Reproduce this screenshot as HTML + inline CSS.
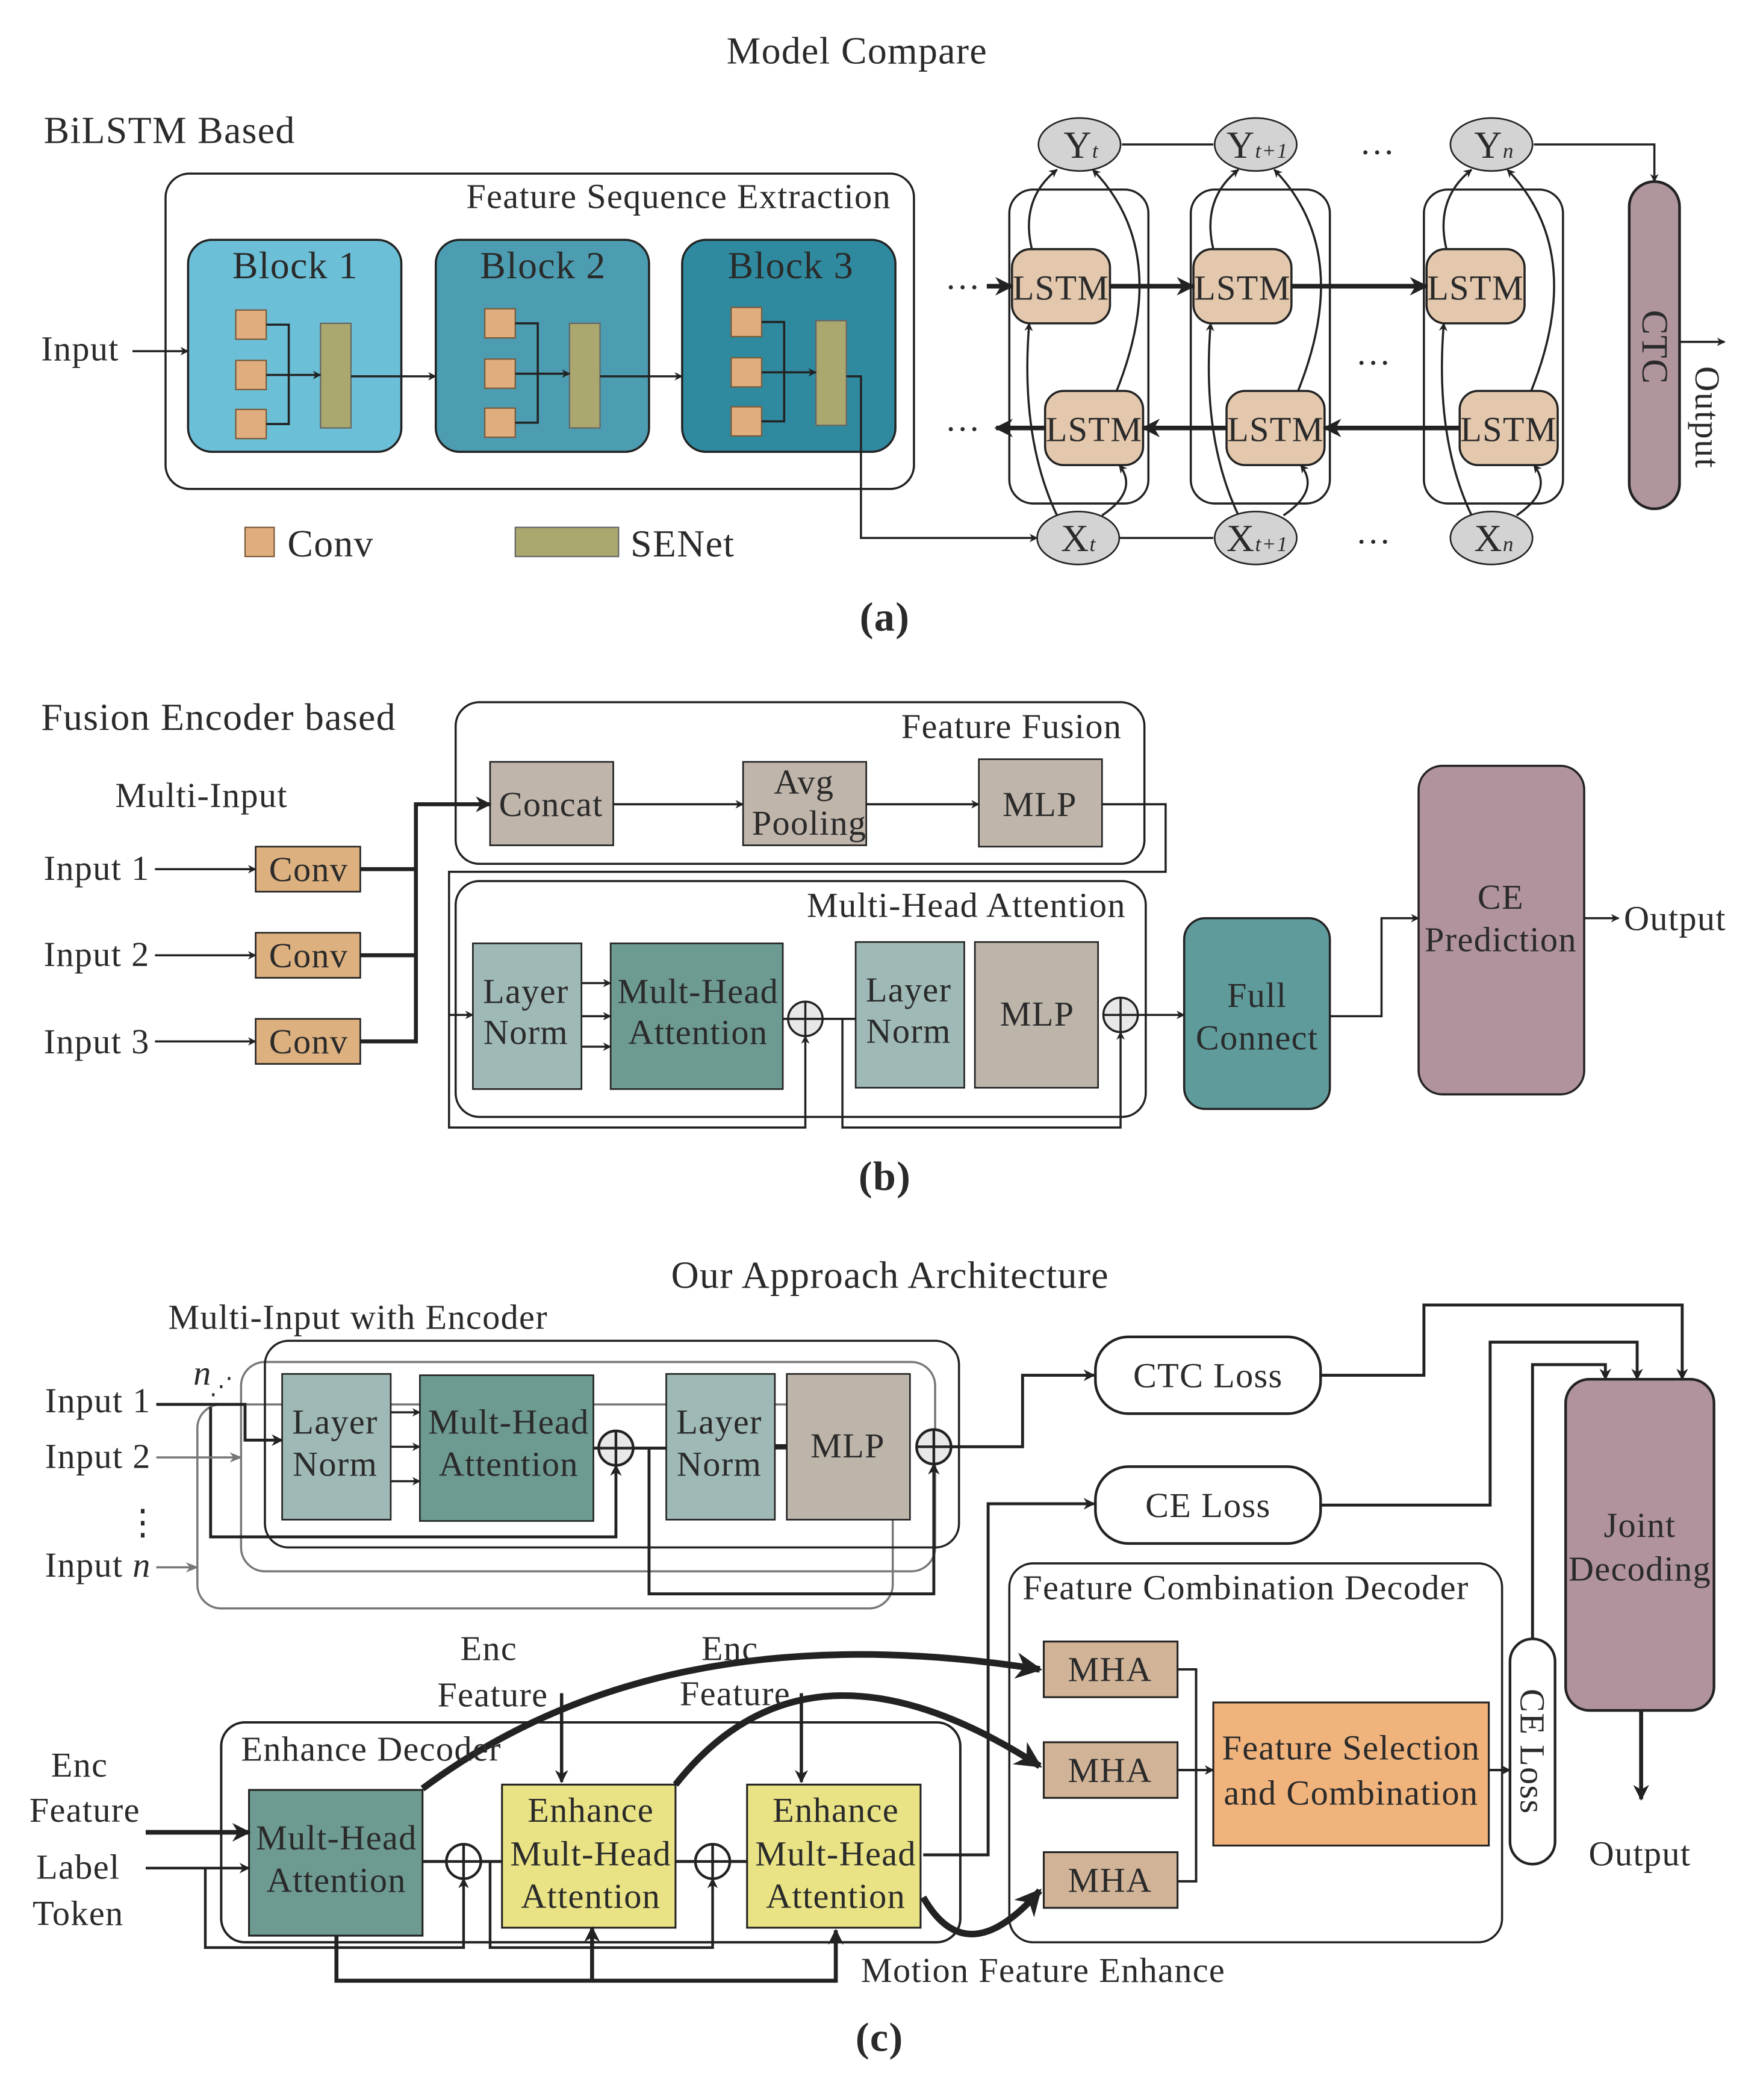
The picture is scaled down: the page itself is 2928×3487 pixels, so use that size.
<!DOCTYPE html>
<html><head><meta charset="utf-8"><style>
html,body{margin:0;padding:0;background:#fff;}
svg{display:block;}
text{font-family:"Liberation Serif",serif;fill:#2a2a2a;letter-spacing:0.6px;}
</style></head><body>
<svg width="2928" height="3487" viewBox="0 0 1331 1585" xmlns="http://www.w3.org/2000/svg">
<defs>
<marker id="a" viewBox="0 0 10 10" refX="9" refY="5" markerWidth="6" markerHeight="6" orient="auto-start-reverse"><path d="M0,1 L10,5 L0,9 L3,5z" fill="#222"/></marker>
<marker id="b" viewBox="0 0 10 10" refX="9" refY="5" markerWidth="4" markerHeight="4" orient="auto-start-reverse"><path d="M0,0 L10,5 L0,10 L3,5z" fill="#222"/></marker>
<marker id="g" viewBox="0 0 10 10" refX="9" refY="5" markerWidth="6" markerHeight="6" orient="auto"><path d="M0,1 L10,5 L0,9 L3,5z" fill="#777"/></marker>
</defs>
<g stroke="#222" fill="none" stroke-width="1.6">
<!-- ===== (a) ===== -->
<rect x="125" y="131" width="565" height="238" rx="18"/>
<rect x="142" y="181" width="161" height="160" rx="18" fill="#6bbfd7"/>
<rect x="329" y="181" width="161" height="160" rx="18" fill="#4c9db1"/>
<rect x="515" y="181" width="161" height="160" rx="18" fill="#2f8a9f"/>
<g fill="#e0ae7e" stroke="#7a5a3a" stroke-width="1">
<rect x="178" y="234" width="23" height="22"/><rect x="178" y="272" width="23" height="22"/><rect x="178" y="309" width="23" height="22"/>
<rect x="366" y="233" width="23" height="22"/><rect x="366" y="271" width="23" height="22"/><rect x="366" y="308" width="23" height="22"/>
<rect x="552" y="232" width="23" height="22"/><rect x="552" y="270" width="23" height="22"/><rect x="552" y="307" width="23" height="22"/>
<rect x="185" y="398" width="22" height="22"/>
</g>
<g fill="#aaa86f" stroke="#666" stroke-width="1">
<rect x="242" y="244" width="23" height="79"/><rect x="430" y="244" width="23" height="79"/><rect x="616" y="242" width="23" height="79"/>
<rect x="389" y="398" width="78" height="22"/>
</g>
<path d="M201,245 H218 V320 H201 M201,283 H242" marker-end="url(#b)"/>
<path d="M389,244 H406 V319 H389 M389,282 H430" marker-end="url(#b)"/>
<path d="M575,243 H592 V318 H575 M575,281 H616" marker-end="url(#b)"/>
<path d="M265,284 H329" marker-end="url(#b)"/>
<path d="M453,284 H515" marker-end="url(#b)"/>
<path d="M100,265 H142" marker-end="url(#b)"/>
<path d="M639,284 H650 V406 H783" marker-end="url(#b)"/>
<rect x="762" y="143" width="105" height="237" rx="18"/>
<rect x="899" y="143" width="105" height="237" rx="18"/>
<rect x="1075" y="143" width="105" height="237" rx="18"/>
<path d="M847,109 H916"/>
<path d="M843,406 H916"/>
<path d="M1158,109 H1249 V137" marker-end="url(#b)"/>
<g fill="#e3c8ad">
<rect x="764" y="188" width="74" height="56" rx="14"/><rect x="901" y="188" width="74" height="56" rx="14"/><rect x="1077" y="188" width="74" height="56" rx="14"/>
<rect x="789" y="295" width="74" height="56" rx="14"/><rect x="926" y="295" width="74" height="56" rx="14"/><rect x="1102" y="295" width="74" height="56" rx="14"/>
</g>
<g stroke-width="3.5">
<path d="M745,216 H764" marker-end="url(#b)"/><path d="M838,216 H901" marker-end="url(#b)"/><path d="M975,216 H1077" marker-end="url(#b)"/>
<path d="M1102,323 H1000" marker-end="url(#b)"/><path d="M926,323 H863" marker-end="url(#b)"/><path d="M789,323 H752" marker-end="url(#b)"/>
</g>
<g>
<path d="M779,188 Q770,150 798,128" marker-end="url(#b)"/><path d="M843,295 Q885,190 825,128" marker-end="url(#b)"/>
<path d="M798,389 Q770,330 777,244" marker-end="url(#b)"/><path d="M832,389 Q860,370 845,351" marker-end="url(#b)"/>
<path d="M916,188 Q907,150 935,128" marker-end="url(#b)"/><path d="M980,295 Q1022,190 962,128" marker-end="url(#b)"/>
<path d="M935,389 Q907,330 914,244" marker-end="url(#b)"/><path d="M969,389 Q997,370 982,351" marker-end="url(#b)"/>
<path d="M1092,188 Q1083,150 1111,128" marker-end="url(#b)"/><path d="M1156,295 Q1198,190 1138,128" marker-end="url(#b)"/>
<path d="M1111,389 Q1083,330 1090,244" marker-end="url(#b)"/><path d="M1145,389 Q1173,370 1158,351" marker-end="url(#b)"/>
</g>
<g fill="#d3d3d3" stroke-width="1.2">
<ellipse cx="815" cy="109" rx="31" ry="20"/><ellipse cx="948" cy="109" rx="31" ry="20"/><ellipse cx="1126" cy="109" rx="31" ry="20"/>
<ellipse cx="814" cy="406" rx="31" ry="20"/><ellipse cx="948" cy="406" rx="31" ry="20"/><ellipse cx="1126" cy="406" rx="31" ry="20"/>
</g>
<rect x="1230" y="137" width="38" height="247" rx="19" fill="#b0959d" stroke-width="2"/>
<path d="M1268,258 H1302" marker-end="url(#b)"/>

<!-- ===== (b) ===== -->
<rect x="344" y="530" width="520" height="122" rx="18"/>
<g fill="#bfb5ab" stroke-width="1.2">
<rect x="370" y="575" width="93" height="63"/><rect x="561" y="575" width="93" height="63"/><rect x="739" y="573" width="93" height="66"/>
</g>
<path d="M463,607 H561" marker-end="url(#b)"/><path d="M654,607 H739" marker-end="url(#b)"/>
<path d="M832,607 H880 V658 H339 V851 H608 V782" marker-end="url(#b)"/>
<path d="M636,769 V851 H846 V779" marker-end="url(#b)"/>
<rect x="344" y="665" width="521" height="178" rx="18"/>
<g stroke-width="1.2">
<rect x="357" y="712" width="82" height="110" fill="#9fbab6"/>
<rect x="461" y="712" width="130" height="110" fill="#6d9a91"/>
<rect x="646" y="711" width="82" height="110" fill="#9fbab6"/>
<rect x="736" y="711" width="93" height="110" fill="#bdb5aa"/>
</g>
<path d="M339,766 H357" marker-end="url(#b)"/>
<path d="M439,742 H461" marker-end="url(#b)"/><path d="M439,767 H461" marker-end="url(#b)"/><path d="M439,790 H461" marker-end="url(#b)"/>
<path d="M591,769 H595 M621,769 H646"/>
<path d="M859,766 H894" marker-end="url(#b)"/>
<g fill="#e8e8e8"><circle cx="608" cy="769" r="13"/><circle cx="846" cy="766" r="13"/></g>
<path d="M595,769 H621 M608,756 V782 M833,766 H859 M846,753 V779"/>
<path d="M117,656 H193" marker-end="url(#b)"/><path d="M117,721 H193" marker-end="url(#b)"/><path d="M117,786 H193" marker-end="url(#b)"/>
<g fill="#ddb07f" stroke-width="1.2">
<rect x="193" y="639" width="79" height="34"/><rect x="193" y="704" width="79" height="34"/><rect x="193" y="769" width="79" height="34"/>
</g>
<path d="M272,656 H314 M272,721 H314 M272,786 H314 V607 H370" stroke-width="3" marker-end="url(#b)"/>
<rect x="894" y="693" width="110" height="144" rx="16" fill="#5f9b9b"/>
<rect x="1071" y="578" width="125" height="248" rx="18" fill="#b0939c"/>
<path d="M1004,767 H1043 V693 H1071" marker-end="url(#b)"/>
<path d="M1196,693 H1222" marker-end="url(#b)"/>

<!-- ===== (c) ===== -->
<rect x="149" y="1060" width="525" height="154" rx="18" stroke="#777"/>
<rect x="182" y="1028" width="524" height="158" rx="18" stroke="#777"/>
<rect x="200" y="1012" width="524" height="156" rx="18"/>
<g stroke-width="1.2">
<rect x="213" y="1037" width="82" height="110" fill="#9fbab6"/>
<rect x="317" y="1038" width="131" height="110" fill="#6d9a91"/>
<rect x="503" y="1037" width="82" height="110" fill="#9fbab6"/>
<rect x="594" y="1037" width="93" height="110" fill="#bdb5aa"/>
</g>
<path d="M118,1060 H185 V1087 H213" stroke-width="2.2" marker-end="url(#b)"/>
<path d="M159,1062 V1160 H465 V1106" stroke-width="2.2" marker-end="url(#b)"/>
<path d="M118,1100 H182" stroke="#777" marker-end="url(#g)"/>
<path d="M118,1183 H149" stroke="#777" marker-end="url(#g)"/>
<path d="M295,1066 H317" marker-end="url(#b)"/><path d="M295,1092 H317" marker-end="url(#b)"/><path d="M295,1118 H317" marker-end="url(#b)"/>
<path d="M448,1093 H452 M478,1093 H503" stroke-width="2.2"/>
<path d="M490,1093 V1203 H705 V1105" stroke-width="2.2" marker-end="url(#b)"/>
<path d="M585,1092 H594" stroke-width="4"/>
<path d="M718,1092 H772 V1038 H826" stroke-width="2.2" marker-end="url(#b)"/>
<g fill="#e8e8e8" stroke-width="2"><circle cx="465" cy="1093" r="13"/><circle cx="705" cy="1092" r="13"/></g>
<path d="M452,1093 H478 M465,1080 V1106 M692,1092 H718 M705,1079 V1105" stroke-width="2"/>
<rect x="827" y="1009" width="170" height="58" rx="25" stroke-width="2"/>
<rect x="827" y="1107" width="170" height="58" rx="25" stroke-width="2"/>
<path d="M997,1038 H1075 V985 H1270 V1041" stroke-width="2.2" marker-end="url(#b)"/>
<path d="M997,1136 H1125 V1013 H1236 V1041" stroke-width="2.2" marker-end="url(#b)"/>
<path d="M1157,1237 V1030 H1212 V1041" stroke-width="2.2" marker-end="url(#b)"/>
<rect x="1182" y="1041" width="112" height="250" rx="18" fill="#b0939c" stroke-width="2"/>
<path d="M1239,1291 V1358" stroke-width="3" marker-end="url(#b)"/>
<rect x="1140" y="1237" width="34" height="170" rx="17" stroke-width="2"/>
<rect x="762" y="1180" width="372" height="286" rx="18"/>
<g fill="#d1b498" stroke-width="1.4">
<rect x="788" y="1239" width="101" height="42"/><rect x="788" y="1315" width="101" height="42"/><rect x="788" y="1398" width="101" height="42"/>
</g>
<path d="M889,1260 H903 V1420 H889 M889,1336 H916" stroke-width="1.8" marker-end="url(#b)"/>
<rect x="916" y="1285" width="208" height="108" fill="#f0b37c" stroke-width="1.4"/>
<path d="M1124,1336 H1140" stroke-width="1.8" marker-end="url(#b)"/>
<path d="M697,1400 H746 V1135 H826" stroke-width="2.2" marker-end="url(#b)"/>
<rect x="167" y="1300" width="558" height="166" rx="18" stroke-width="1.8"/>
<rect x="188" y="1351" width="131" height="110" fill="#6d9a91" stroke-width="1.4"/>
<rect x="379" y="1347" width="131" height="108" fill="#e9e385" stroke-width="1.4"/>
<rect x="564" y="1347" width="131" height="108" fill="#e9e385" stroke-width="1.4"/>
<path d="M110,1383 H188" stroke-width="3.5" marker-end="url(#b)"/>
<path d="M110,1410 H188" stroke-width="2" marker-end="url(#b)"/>
<path d="M155,1410 V1470 H350 V1418" stroke-width="2" marker-end="url(#b)"/>
<path d="M370,1405 V1470 H538 V1418" stroke-width="2" marker-end="url(#b)"/>
<path d="M319,1405 H337 M363,1405 H379 M510,1405 H525 M551,1405 H564" stroke-width="2.2"/>
<g fill="#fff" stroke-width="2"><circle cx="350" cy="1405" r="13"/><circle cx="538" cy="1405" r="13"/></g>
<path d="M337,1405 H363 M350,1392 V1418 M525,1405 H551 M538,1392 V1418" stroke-width="2"/>
<path d="M254,1461 V1495 H631 V1457" stroke-width="3" marker-end="url(#b)"/>
<path d="M447,1495 V1455" stroke-width="3" marker-end="url(#b)"/>
<path d="M424,1278 V1345" stroke-width="2.5" marker-end="url(#b)"/>
<path d="M605,1278 V1345" stroke-width="2.5" marker-end="url(#b)"/>
<g stroke-width="5">
<path d="M319,1350 Q500,1215 785,1260" marker-end="url(#b)"/>
<path d="M510,1347 Q610,1220 785,1333" marker-end="url(#b)"/>
<path d="M697,1432 Q730,1490 785,1427" marker-end="url(#b)"/>
</g>
</g>

<!-- ===== TEXT ===== -->
<g font-size="29">
<text x="647" y="48" text-anchor="middle">Model Compare</text>
<text x="33" y="108">BiLSTM Based</text>
<text x="31" y="551">Fusion Encoder based</text>
<text x="672" y="972" text-anchor="middle">Our Approach Architecture</text>
</g>
<g font-size="31" font-weight="bold">
<text x="668" y="476" text-anchor="middle">(a)</text>
<text x="668" y="898" text-anchor="middle">(b)</text>
<text x="664" y="1548" text-anchor="middle">(c)</text>
</g>
<g font-size="26.5">
<text x="352" y="157">Feature Sequence Extraction</text>
<text x="223" y="210" text-anchor="middle" font-size="29">Block 1</text>
<text x="410" y="210" text-anchor="middle" font-size="29">Block 2</text>
<text x="597" y="210" text-anchor="middle" font-size="29">Block 3</text>
<text x="31" y="272">Input</text>
<text x="217" y="420" font-size="29">Conv</text>
<text x="476" y="420" font-size="29">SENet</text>
<text x="801" y="226" text-anchor="middle">LSTM</text><text x="938" y="226" text-anchor="middle">LSTM</text><text x="1114" y="226" text-anchor="middle">LSTM</text>
<text x="826" y="333" text-anchor="middle">LSTM</text><text x="963" y="333" text-anchor="middle">LSTM</text><text x="1139" y="333" text-anchor="middle">LSTM</text>
<text x="803" y="119" font-size="29">Y<tspan font-size="16" font-style="italic">t</tspan></text>
<text x="926" y="119" font-size="29">Y<tspan font-size="16" font-style="italic">t+1</tspan></text>
<text x="1113" y="119" font-size="29">Y<tspan font-size="16" font-style="italic">n</tspan></text>
<text x="801" y="416" font-size="29">X<tspan font-size="16" font-style="italic">t</tspan></text>
<text x="926" y="416" font-size="29">X<tspan font-size="16" font-style="italic">t+1</tspan></text>
<text x="1113" y="416" font-size="29">X<tspan font-size="16" font-style="italic">n</tspan></text>
<text x="1040" y="116" text-anchor="middle">…</text><text x="1037" y="275" text-anchor="middle">…</text><text x="1037" y="410" text-anchor="middle">…</text>
<text x="727" y="218" text-anchor="middle">…</text><text x="727" y="325" text-anchor="middle">…</text>
<text transform="translate(1240,262) rotate(90)" text-anchor="middle" font-size="28">CTC</text>
<text transform="translate(1280,315) rotate(90)" text-anchor="middle">Output</text>

<text x="847" y="557" text-anchor="end">Feature Fusion</text>
<text x="416" y="616" text-anchor="middle">Concat</text>
<text x="607" y="599" text-anchor="middle">Avg</text><text x="611" y="630" text-anchor="middle">Pooling</text>
<text x="785" y="616" text-anchor="middle">MLP</text>
<text x="87" y="609">Multi-Input</text>
<text x="33" y="664">Input 1</text><text x="33" y="729">Input 2</text><text x="33" y="795">Input 3</text>
<text x="233" y="665" text-anchor="middle">Conv</text><text x="233" y="730" text-anchor="middle">Conv</text><text x="233" y="795" text-anchor="middle">Conv</text>
<text x="850" y="692" text-anchor="end">Multi-Head Attention</text>
<text x="397" y="757" text-anchor="middle">Layer</text><text x="397" y="788" text-anchor="middle">Norm</text>
<text x="527" y="757" text-anchor="middle">Mult-Head</text><text x="527" y="788" text-anchor="middle">Attention</text>
<text x="686" y="756" text-anchor="middle">Layer</text><text x="686" y="787" text-anchor="middle">Norm</text>
<text x="783" y="774" text-anchor="middle">MLP</text>
<text x="949" y="760" text-anchor="middle">Full</text><text x="949" y="792" text-anchor="middle">Connect</text>
<text x="1133" y="686" text-anchor="middle">CE</text><text x="1133" y="718" text-anchor="middle">Prediction</text>
<text x="1226" y="702">Output</text>

<text x="127" y="1003">Multi-Input with Encoder</text>
<text x="34" y="1066">Input 1</text><text x="34" y="1108">Input 2</text>
<text x="34" y="1190">Input <tspan font-style="italic">n</tspan></text>
<text x="108" y="1158" text-anchor="middle">⋮</text>
<text x="146" y="1045" font-style="italic">n</text><text x="158" y="1052" font-size="18">⋰</text>
<text x="253" y="1082" text-anchor="middle">Layer</text><text x="253" y="1114" text-anchor="middle">Norm</text>
<text x="384" y="1082" text-anchor="middle">Mult-Head</text><text x="384" y="1114" text-anchor="middle">Attention</text>
<text x="543" y="1082" text-anchor="middle">Layer</text><text x="543" y="1114" text-anchor="middle">Norm</text>
<text x="640" y="1100" text-anchor="middle">MLP</text>
<text x="912" y="1047" text-anchor="middle">CTC Loss</text>
<text x="912" y="1145" text-anchor="middle">CE Loss</text>
<text x="1238" y="1160" text-anchor="middle">Joint</text><text x="1238" y="1193" text-anchor="middle">Decoding</text>
<text x="1238" y="1408" text-anchor="middle">Output</text>
<text transform="translate(1148,1322) rotate(90)" text-anchor="middle">CE Loss</text>
<text x="772" y="1207">Feature Combination Decoder</text>
<text x="838" y="1269" text-anchor="middle">MHA</text><text x="838" y="1345" text-anchor="middle">MHA</text><text x="838" y="1428" text-anchor="middle">MHA</text>
<text x="1020" y="1328" text-anchor="middle" fill="#333">Feature Selection</text>
<text x="1020" y="1362" text-anchor="middle" fill="#333">and Combination</text>
<text x="182" y="1329">Enhance Decoder</text>
<text x="369" y="1253" text-anchor="middle">Enc</text><text x="372" y="1288" text-anchor="middle">Feature</text>
<text x="551" y="1253" text-anchor="middle">Enc</text><text x="555" y="1287" text-anchor="middle">Feature</text>
<text x="60" y="1341" text-anchor="middle">Enc</text><text x="64" y="1375" text-anchor="middle">Feature</text>
<text x="59" y="1418" text-anchor="middle">Label</text><text x="59" y="1453" text-anchor="middle">Token</text>
<text x="254" y="1396" text-anchor="middle">Mult-Head</text><text x="254" y="1428" text-anchor="middle">Attention</text>
<text x="446" y="1375" text-anchor="middle">Enhance</text><text x="446" y="1408" text-anchor="middle">Mult-Head</text><text x="446" y="1440" text-anchor="middle">Attention</text>
<text x="631" y="1375" text-anchor="middle">Enhance</text><text x="631" y="1408" text-anchor="middle">Mult-Head</text><text x="631" y="1440" text-anchor="middle">Attention</text>
<text x="650" y="1496">Motion Feature Enhance</text>
</g>
</svg>
</body></html>
